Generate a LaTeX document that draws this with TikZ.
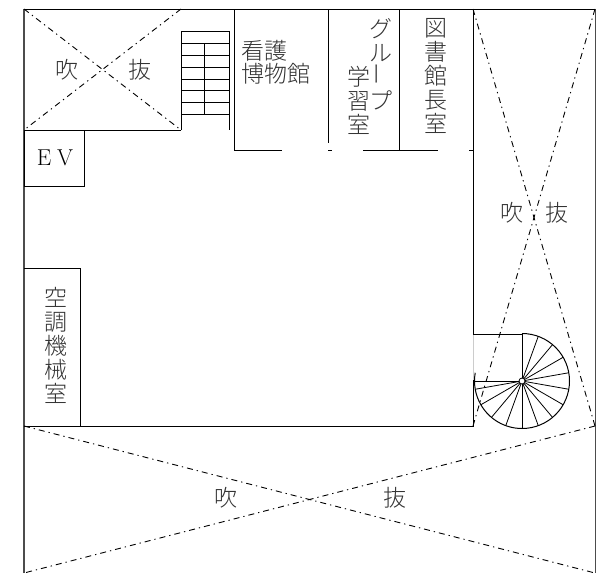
\documentclass[tikz,border=0pt]{standalone}
\usepackage{fontspec}
\usetikzlibrary{calc}
\newfontfamily\cjk{Noto Sans CJK JP Light}
\setmainfont{Latin Modern Roman}
\tikzset{
  wall/.style={draw=black,line width=1pt},
  thin wall/.style={draw=black,line width=0.8pt},
  heavy wall/.style={draw=black!70,line width=1.4pt},
  void/.style={draw=black,line width=0.9pt,dash pattern=on 6pt off 4pt on 1.3pt off 4pt},
  jp/.style={font=\cjk\fontsize{23}{23}\selectfont,inner sep=0pt,text=black!80},
  jpv/.style={jp,align=center,font=\cjk\fontsize{23}{24}\selectfont}
}
\newcommand{\chobar}{\rotatebox{90}{ー}}
\begin{document}
\begin{tikzpicture}[x=1pt,y=-1pt]
\useasboundingbox (0,0) rectangle (597,573);
\fill[white] (0,0) rectangle (597,573);
% outer walls
\draw[heavy wall] (24,573) -- (24,9);
\draw[wall] (24,9) -- (596,9);
\draw[wall] (473,334) -- (473,9);
\draw[wall] (24,426) -- (473,426) -- (473,380);
\draw[draw=black!20,line width=0.8pt] (473,334) -- (473,380);
\draw[heavy wall] (595.5,9) -- (595.5,573);
% voids
\draw[void] (24,9) -- (181,130);
\draw[void] (181,9) -- (24,130);
\draw[void] (473,9) -- (595,426);
\draw[void] (595,9) -- (473,426);
\draw[void] (24,426) -- (595,573);
\draw[void] (595,426) -- (24,573);
% EV, plant room
\draw[wall] (84,130) -- (181,130);
\draw[wall] (24,130) rectangle (84,186);
\draw[wall] (24,268) -- (80,268) -- (80,426);
% stair
\draw[thin wall] (181,130) -- (181,31) -- (229,31) -- (229,130);
\foreach \yy in {43,55,67,79,90,102,114}
  \draw[thin wall] (181,\yy) -- (229,\yy);
\draw[thin wall] (204.5,43) -- (204.5,114);
% rooms
\draw[thin wall] (234,9) -- (234,150) -- (282,150);
\draw[thin wall] (328,9) -- (328,143);
\draw[thin wall] (328,150) -- (332,150);
\draw[thin wall] (363,150) -- (438,150);
\draw[thin wall] (399,9) -- (399,150);
\draw[thin wall] (469,150) -- (473,150);
% spiral stair
\coordinate (c) at (522,381);
\draw[wall] (473,334) -- (522,334) -- (522,381) -- (473,381);
\draw[wall] (522,333.5) arc[start angle=-90,end angle=190,radius=47.5];
\fill[white] (c) circle (3);
\draw[thin wall] (c) circle (3);
\foreach \aa in {70,50,30,10,-10,-30,-50,-70,-90,-110,-130,-150,-170}
  \draw[thin wall] ($(c)+({3*cos(\aa)},{-3*sin(\aa)})$) -- ++({44.5*cos(\aa)},{-44.5*sin(\aa)});
% labels
\node[jp] (v1a) at (67,70) {吹};
\node[jp] (v1b) at (140,70) {抜};
\node[jp] (v2a) at (512,213) {吹};
\node[jp] (v2b) at (557,213) {抜};
\node[jp] (v3a) at (226,498) {吹};
\node[jp] (v3b) at (395,498) {抜};
\node[jp,align=left,font=\cjk\fontsize{23}{23}\selectfont] (kango) at (276,62) {看護\\博物館};
\node[jpv] (group) at (381,64) {グ\\ル\\\chobar\\プ};
\node[jpv] (gaku) at (359,100) {学\\習\\室};
\node[jpv] (tosho) at (436,76) {図\\書\\館\\長\\室};
\node[jpv] (kucho) at (56,345) {空\\調\\機\\械\\室};
\node[inner sep=0pt,font=\fontsize{23}{23}\selectfont] (ev) at (55,158) {E\hspace{6pt}V};
\end{tikzpicture}
\end{document}
